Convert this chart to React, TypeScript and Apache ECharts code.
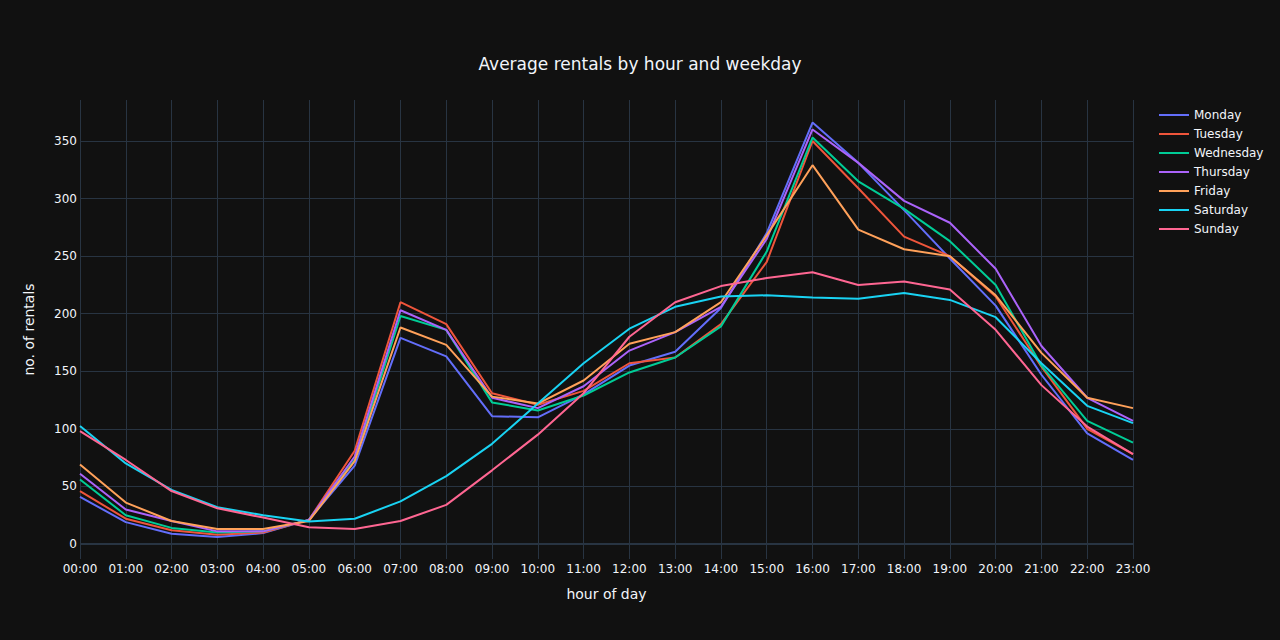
import React, { useEffect, useRef } from "react";
import * as echarts from "echarts";

const hours = [
  "00:00", "01:00", "02:00", "03:00", "04:00", "05:00", "06:00", "07:00",
  "08:00", "09:00", "10:00", "11:00", "12:00", "13:00", "14:00", "15:00",
  "16:00", "17:00", "18:00", "19:00", "20:00", "21:00", "22:00", "23:00",
];

const monday = [41, 19, 9, 6, 9.5, 21, 68, 179, 163, 111, 110, 130, 155, 167, 205, 270, 366, 331, 290, 248, 207, 147, 96, 73];
const tuesday = [46, 22, 12, 8, 10, 21, 81, 210, 191, 131, 121, 133, 157, 162, 191, 245, 350, 309, 267, 250, 215, 154, 100, 78];
const wednesday = [56, 25, 14, 10, 11, 21, 73, 198, 186, 123, 116, 129, 149, 162, 189, 254, 353, 315, 291, 263, 225, 155, 107, 88];
const thursday = [61, 30, 20, 11, 11, 21, 76, 203, 186, 127, 118, 137, 168, 184, 206, 265, 360, 331, 298, 279, 239, 172, 127, 107];
const friday = [69, 36, 20, 13, 13, 20, 72, 188, 173, 128, 122, 142, 174, 184, 210, 268, 329, 273, 256, 250, 216, 166, 127, 118];
const saturday = [102.5, 70, 47, 32, 25, 19.5, 22, 37, 59, 87, 122, 157, 187, 206, 215, 216, 214, 213, 218, 212, 197, 157, 120, 105];
const sunday = [98, 73, 46, 31, 23, 14.5, 13, 20, 34, 64, 95, 131, 180, 210, 224, 231, 236, 225, 228, 221, 186, 138, 102, 78];

const yTicks = [0, 50, 100, 150, 200, 250, 300, 350];

const seriesNames = ["Monday", "Tuesday", "Wednesday", "Thursday", "Friday", "Saturday", "Sunday"];
const seriesData = [monday, tuesday, wednesday, thursday, friday, saturday, sunday];
const colors = ["#636efa", "#EF553B", "#00cc96", "#ab63fa", "#FFA15A", "#19d3f3", "#FF6692"];

const FONT = "Verdana, 'DejaVu Sans', sans-serif";
const TXT = "#f2f5fa";
const GRID = "#283442";

export default function App() {
  const ref = useRef<HTMLDivElement>(null);

  useEffect(() => {
    if (!ref.current) return;
    const chart = echarts.init(ref.current, null, { renderer: "svg" });
    const series: any[] = seriesNames.map((name, i) => ({
      name,
      type: "line",
      data: seriesData[i],
      symbol: "none",
      lineStyle: { width: 2, color: colors[i] },
      itemStyle: { color: colors[i] },
      z: 3 + i,
    }));
    series.push({
      name: "__zero",
      type: "line",
      data: [],
      silent: true,
      z: 2,
      markLine: {
        silent: true,
        symbol: "none",
        label: { show: false },
        lineStyle: { color: GRID, width: 2, type: "solid" },
        data: [{ yAxis: 0 }],
      },
    });
    chart.setOption({
      animation: false,
      backgroundColor: "#111111",
      textStyle: { fontFamily: FONT, color: TXT },
      title: {
        text: "Average rentals by hour and weekday",
        left: "center",
        top: 50,
        textStyle: { color: TXT, fontSize: 17, fontWeight: "normal", fontFamily: FONT },
      },
      legend: {
        data: seriesNames,
        orient: "vertical",
        left: 1159,
        top: 109,
        padding: 0,
        icon: "rect",
        itemWidth: 30,
        itemHeight: 2,
        itemGap: 7,
        textStyle: { color: TXT, fontSize: 12, fontFamily: FONT },
      },
      grid: { left: 80, right: 147, top: 100, bottom: 81, containLabel: false },
      xAxis: {
        type: "category",
        data: hours,
        boundaryGap: false,
        name: "hour of day",
        nameLocation: "middle",
        nameGap: 28,
        nameTextStyle: { color: TXT, fontSize: 14, fontFamily: FONT },
        axisLine: { show: false },
        axisTick: { show: false },
        axisLabel: { color: TXT, fontSize: 12, interval: 0, margin: 4, fontFamily: FONT },
        splitLine: { show: true, lineStyle: { color: GRID, width: 1 } },
      },
      yAxis: {
        type: "value",
        min: -13,
        max: 385.6,
        name: "no. of rentals",
        nameLocation: "middle",
        nameGap: 44,
        nameTextStyle: { color: TXT, fontSize: 14, fontFamily: FONT },
        axisLine: { show: false },
        axisTick: { show: false, customValues: yTicks },
        axisLabel: { color: TXT, fontSize: 12, margin: 3, fontFamily: FONT, customValues: yTicks },
        splitLine: { show: true, lineStyle: { color: GRID, width: 1 } },
      },
      series,
    });
    return () => chart.dispose();
  }, []);

  return (
    <div
      ref={ref}
      style={{ position: "fixed", left: 0, top: 0, width: 1280, height: 640 }}
    />
  );
}
